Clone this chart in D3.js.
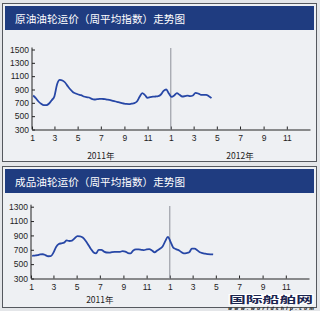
<!DOCTYPE html>
<html>
<head>
<meta charset="utf-8">
<script src="https://cdn.jsdelivr.net/npm/d3@7"></script>
<style>
  html, body { margin: 0; padding: 0; background: #e6e8ea; }
  svg { display: block; }
</style>
</head>
<body>
<div id="chart"></div>
<script>
// weekly average index, first week starting 2011-01-04
var crudeIndex = [
  810, 770, 720, 685, 665, 665, 690, 740, 800, 980,
  1045, 1035, 1005, 950, 900, 860, 840, 825, 815, 795,
  785, 780, 760, 750, 755, 760, 758, 755, 748, 740,
  730, 720, 710, 700, 690, 683, 682, 688, 695, 720,
  790, 845, 815, 775, 785, 792, 795, 800, 825, 880,
  900, 840, 790, 810, 845, 820, 795, 800, 808, 800,
  810, 850, 840, 820, 818, 820, 800, 770
];
var productIndex = [
  615, 620, 625, 635, 638, 625, 610, 612, 660, 740,
  780, 790, 800, 830, 822, 828, 860, 890, 888, 870,
  830, 775, 715, 665, 650, 700, 700, 675, 662, 660,
  668, 672, 670, 672, 680, 675, 655, 650, 690, 705,
  705, 700, 695, 705, 708, 690, 665, 690, 715, 745,
  820, 880, 810, 730, 710, 695, 670, 650, 655, 665,
  715, 715, 695, 665, 655, 645, 640, 637, 635
];
var crudeTicks = [300, 500, 700, 900, 1100, 1300, 1500];
var productTicks = [300, 500, 700, 900, 1100, 1300];
var monthLabels = [1, 3, 5, 7, 9, 11];
var yearLabels = ["2011年", "2012年"];

var W = 320, H = 311;
var svg = d3.select("#chart").append("svg")
  .attr("width", W).attr("height", H);

svg.append("rect").attr("width", W).attr("height", H).attr("fill", "#e4e6e9");

var firstWeek = new Date(2011, 0, 4);
function weekDate(i) { return d3.timeDay.offset(firstWeek, i * 7); }

function drawPanel(opt) {
  var g = svg.append("g");

  // frame + header
  g.append("rect")
    .attr("x", 2.5).attr("y", opt.top + 0.5)
    .attr("width", 314).attr("height", opt.height)
    .attr("fill", "#eef0f3").attr("stroke", "#55585e").attr("stroke-width", 1);
  g.append("rect")
    .attr("x", 5).attr("y", opt.top + 3)
    .attr("width", 309).attr("height", 24)
    .attr("fill", "#1f3c80");
  g.append("text")
    .attr("x", 15).attr("y", opt.top + 19.5)
    .attr("fill", "#ffffff")
    .style("font-family", "'Noto Sans CJK SC', sans-serif")
    .style("font-size", "10.6px")
    .attr("textLength", 170)
    .text(opt.title);

  var x = d3.scaleTime()
    .domain([new Date(2011, 0, 1), new Date(2013, 0, 1)])
    .range([opt.x0, opt.x0 + 278]);
  var y = d3.scaleLinear()
    .domain([300, opt.yMax])
    .range([opt.yBottom, opt.yTop]);

  // y axis
  var yAxis = d3.axisLeft(y)
    .tickValues(opt.ticks)
    .tickFormat(d3.format("d"))
    .tickSizeInner(-3).tickSizeOuter(0)
    .tickPadding(3);
  var ya = g.append("g")
    .attr("transform", "translate(" + opt.x0 + ",0)")
    .call(yAxis);
  ya.select(".domain").attr("stroke", "#222").attr("d", "M0," + (y(opt.yMax) - 2) + "V" + opt.yBottom);

  // x axis, odd months
  var monthDates = [];
  [2011, 2012].forEach(function(yr) {
    monthLabels.forEach(function(m) { monthDates.push(new Date(yr, m - 1, 1)); });
  });
  var xAxis = d3.axisBottom(x)
    .tickValues(monthDates)
    .tickFormat(function(d) { return d.getMonth() + 1; })
    .tickSizeInner(-3).tickSizeOuter(0)
    .tickPadding(5.5);
  var xa = g.append("g")
    .attr("transform", "translate(0," + opt.yBottom + ")")
    .call(xAxis);
  xa.select(".domain").attr("stroke", "#222");

  [ya, xa].forEach(function(a) {
    a.selectAll("line").attr("stroke", "#222");
    a.selectAll("text")
      .attr("fill", "#1e1e1e")
      .style("font-family", "'Liberation Sans', Arial, sans-serif")
      .style("font-size", "8.5px");
  });

  // year labels
  g.selectAll(".year")
    .data(yearLabels.slice(0, opt.years))
    .enter().append("text")
    .attr("x", function(d, i) { return x(new Date(2011 + i, 6, 1)); })
    .attr("y", opt.yearY)
    .attr("text-anchor", "middle")
    .attr("fill", "#1e1e1e")
    .style("font-family", "'Noto Sans CJK SC', sans-serif")
    .style("font-size", "8.5px")
    .text(function(d) { return d; });

  // 2012 divider
  g.append("line")
    .attr("x1", x(new Date(2012, 0, 1))).attr("x2", x(new Date(2012, 0, 1)))
    .attr("y1", opt.divTop).attr("y2", opt.yBottom)
    .attr("stroke", "#8d9099").attr("stroke-width", 1);

  var line = d3.line()
    .x(function(d, i) { return x(weekDate(i)); })
    .y(function(d) { return y(d); })
    .curve(d3.curveMonotoneX);
  g.append("path")
    .datum(opt.data)
    .attr("d", line)
    .attr("fill", "none")
    .attr("stroke", "#2747a6")
    .attr("stroke-width", 1.8)
    .attr("stroke-linejoin", "round");
}

drawPanel({
  title: "原油油轮运价（周平均指数）走势图",
  data: crudeIndex, ticks: crudeTicks, yMax: 1500,
  top: 3, height: 158, x0: 32, yBottom: 129.5, yTop: 49.5,
  divTop: 48, yearY: 159, years: 2
});
drawPanel({
  title: "成品油轮运价（周平均指数）走势图",
  data: productIndex, ticks: productTicks, yMax: 1300,
  top: 166, height: 141, x0: 31, yBottom: 278.5, yTop: 206.7,
  divTop: 206, yearY: 303, years: 1
});

// watermark
var wm = svg.append("g");
wm.append("text")
  .attr("x", 271).attr("y", 302.9)
  .attr("text-anchor", "middle")
  .attr("fill", "#1b2550").attr("stroke", "#ffffff").attr("stroke-width", 2)
  .attr("paint-order", "stroke")
  .style("font-family", "'Noto Sans CJK SC', sans-serif")
  .style("font-weight", "bold")
  .style("font-size", "9.5px")
  .attr("textLength", 84)
  .attr("lengthAdjust", "spacingAndGlyphs")
  .text("国际船舶网");
wm.append("text")
  .attr("x", 271).attr("y", 309.8)
  .attr("text-anchor", "middle")
  .attr("fill", "#1b1b1b")
  .style("font-family", "'DejaVu Sans', sans-serif")
  .style("font-style", "italic").style("font-weight", "bold")
  .style("font-size", "4.5px")
  .attr("textLength", 86)
  .text("www.worldship.com");
</script>
</body>
</html>
